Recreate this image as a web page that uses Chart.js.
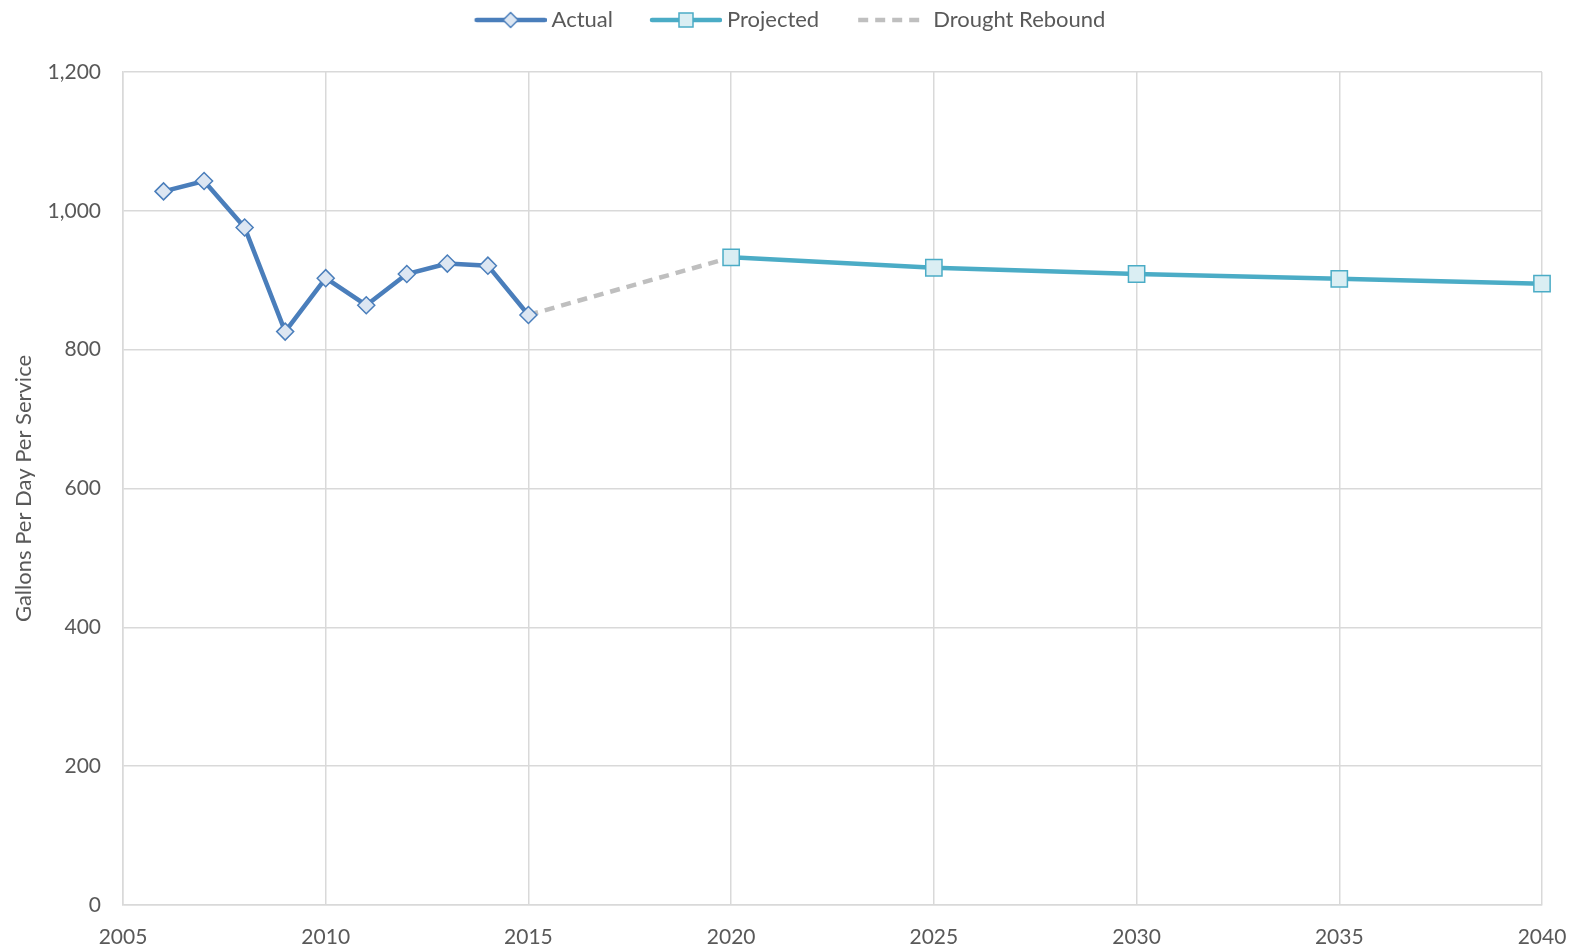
<!DOCTYPE html>
<html>
<head>
<meta charset="utf-8">
<script src="https://cdn.jsdelivr.net/npm/chart.js@4/dist/chart.umd.min.js"></script>
<style>
  html, body { margin: 0; padding: 0; background: #fff; }
  #wrap { width: 1579px; height: 948px; position: relative; }
</style>
</head>
<body>
<div id="wrap"><canvas id="gpd-chart"></canvas></div>
<script>
// Data
const actualYears = [2006, 2007, 2008, 2009, 2010, 2011, 2012, 2013, 2014, 2015];
const actualValues = [1028, 1043, 976, 826, 903, 864, 909, 924, 921, 850];

const projectedYears = [2020, 2025, 2030, 2035, 2040];
const projectedValues = [933, 918, 909, 902, 895];

const reboundYears = [2015, 2020];
const reboundValues = [850, 933];

const yTicks = [0, 200, 400, 600, 800, 1000, 1200];
const xTicks = [2005, 2010, 2015, 2020, 2025, 2030, 2035, 2040];

const TEXT = '#595959';
const GRID = '#D9D9D9';
const ACTUAL = '#4A7EBB';
const PROJ = '#4BACC6';
const REBOUND = '#BFBFBF';
const FONT = 'Lato, "Open Sans", sans-serif';

// Legend swatch: line + marker, with a blank gap on the left to space items.
// The image is wider than the legend box so the text sits close to the line.
const BOX = 98, SW = 110, GAP = 38, SH = 20;
function swatch(color, marker, dashed) {
    const c = document.createElement('canvas');
    c.width = SW; c.height = SH;
    const g = c.getContext('2d');
    const cy = SH / 2;
    g.strokeStyle = color;
    g.lineWidth = 4.5;
    g.lineCap = dashed ? 'butt' : 'round';
    if (dashed) g.setLineDash([10, 7]);
    g.beginPath();
    g.moveTo(GAP + 2, cy);
    g.lineTo(SW - 2, cy);
    g.stroke();
    g.setLineDash([]);
    const cx = GAP + (SW - GAP) / 2;
    if (marker === 'diamond') {
        g.fillStyle = '#DCE6F2';
        g.lineWidth = 1.5;
        g.beginPath();
        g.moveTo(cx, cy - 7.5); g.lineTo(cx + 7.5, cy); g.lineTo(cx, cy + 7.5); g.lineTo(cx - 7.5, cy);
        g.closePath(); g.fill(); g.stroke();
    } else if (marker === 'square') {
        g.fillStyle = '#DAEEF3';
        g.lineWidth = 1.5;
        g.fillRect(cx - 7, cy - 7, 14, 14);
        g.strokeRect(cx - 7, cy - 7, 14, 14);
    }
    return c;
}

const toPoints = (xs, ys) => xs.map((x, i) => ({ x: x, y: ys[i] }));

// fixed legend band height, then nudge the legend into place
const legendFit = {
    id: 'legendFit',
    beforeInit(chart) {
        const orig = chart.legend.fit;
        chart.legend.fit = function () {
            orig.call(this);
            this.height = 72;
        };
    },
    afterLayout(chart) {
        chart.legend.left += 3;
        chart.legend.right += 3;
        chart.legend.top += 4;
        chart.legend.bottom += 4;
    }
};

const swatches = [swatch(ACTUAL, 'diamond'), swatch(PROJ, 'square'), swatch(REBOUND, null, true)];

new Chart(document.getElementById('gpd-chart'), {
    type: 'line',
    data: {
        datasets: [
            {
                label: 'Actual',
                data: toPoints(actualYears, actualValues),
                borderColor: ACTUAL,
                borderWidth: 4.5,
                pointStyle: 'rectRot',
                pointRadius: 8.5,
                pointHoverRadius: 8.5,
                pointBackgroundColor: '#DCE6F2',
                pointBorderColor: ACTUAL,
                pointBorderWidth: 1.5,
                tension: 0,
                clip: false
            },
            {
                label: 'Projected',
                data: toPoints(projectedYears, projectedValues),
                borderColor: PROJ,
                borderWidth: 4.5,
                pointStyle: 'rect',
                pointRadius: 11.5,
                pointHoverRadius: 11.5,
                pointBackgroundColor: '#DAEEF3',
                pointBorderColor: PROJ,
                pointBorderWidth: 1.5,
                tension: 0,
                clip: false
            },
            {
                label: 'Drought Rebound',
                data: toPoints(reboundYears, reboundValues),
                borderColor: REBOUND,
                borderWidth: 4.5,
                borderDash: [10, 7],
                pointRadius: 0,
                tension: 0,
                order: 5
            }
        ]
    },
    options: {
        responsive: true,
        maintainAspectRatio: false,
        animation: false,
        layout: { padding: { left: 0, right: 37, top: 0, bottom: 0 } },
        plugins: {
            legend: {
                position: 'top',
                labels: {
                    color: TEXT,
                    font: { family: FONT, size: 22 },
                    usePointStyle: true,
                    pointStyleWidth: BOX,
                    boxHeight: 20,
                    padding: 5,
                    generateLabels: (chart) => chart.data.datasets.map((ds, i) => ({
                        text: ds.label,
                        pointStyle: swatches[i],
                        fillStyle: 'transparent',
                        strokeStyle: 'transparent',
                        lineWidth: 0,
                        fontColor: TEXT,
                        datasetIndex: i
                    }))
                }
            },
            tooltip: { enabled: false }
        },
        scales: {
            x: {
                type: 'linear',
                min: 2005,
                max: 2040,
                afterBuildTicks: (s) => { s.ticks = xTicks.map(v => ({ value: v })); },
                afterFit: (s) => { s.height = 43; s.paddingLeft = 0; s.paddingRight = 0; },
                ticks: {
                    color: TEXT,
                    font: { family: FONT, size: 21 },
                    padding: 20,
                    maxRotation: 0,
                    callback: (v) => String(v)
                },
                grid: { color: GRID, lineWidth: 1.5, drawTicks: false },
                border: { color: GRID, width: 1.5 }
            },
            y: {
                min: 0,
                max: 1200,
                afterBuildTicks: (s) => { s.ticks = yTicks.map(v => ({ value: v })); },
                afterFit: (s) => { s.width = 123; },
                ticks: {
                    color: TEXT,
                    font: { family: FONT, size: 21 },
                    padding: 22,
                    callback: (v) => v.toLocaleString('en-US')
                },
                grid: { color: GRID, lineWidth: 1.5, drawTicks: false },
                border: { color: GRID, width: 1.5 },
                title: {
                    display: true,
                    text: 'Gallons Per Day Per Service',
                    color: TEXT,
                    font: { family: FONT, size: 22 },
                    padding: { top: 11, bottom: 0 }
                }
            }
        }
    },
    plugins: [legendFit]
});
</script>
</body>
</html>
